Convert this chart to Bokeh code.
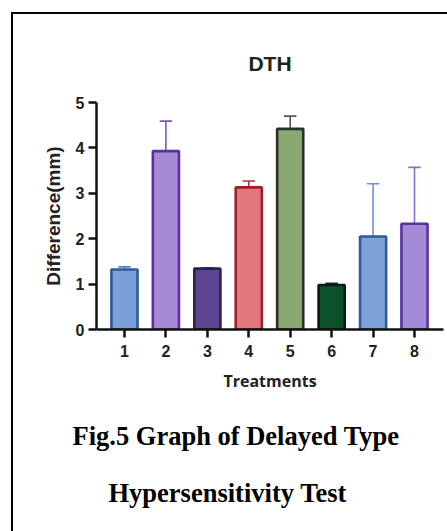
from bokeh.plotting import figure
from bokeh.models import ColumnDataSource, FixedTicker, Title
from bokeh.embed import file_html
from bokeh.resources import INLINE

treatments = [1, 2, 3, 4, 5, 6, 7, 8]
means = [1.32, 3.93, 1.34, 3.13, 4.42, 0.98, 2.05, 2.33]
upper = [1.38, 4.59, 1.36, 3.27, 4.70, 1.02, 3.21, 3.57]
fills = ["#7ba0d8", "#a58bd5", "#5e4592", "#e0787e", "#8aa772", "#0b5229", "#7ea2d8", "#a48bd6"]
borders = ["#2d5a9b", "#5b2da6", "#2b2250", "#a01d2a", "#273226", "#0b1a10", "#2f5aa0", "#5a31a5"]
errcolors = ["#5a7fb8", "#7a5ab8", "#3a2f60", "#b03040", "#555555", "#1a2a1a", "#7090d0", "#8a70c8"]
y_ticks = [0, 1, 2, 3, 4, 5]

W, H = 447, 531
frame_css = ("linear-gradient(#000,#000) 11px 12px / 2px 519px no-repeat, "
             "linear-gradient(#000,#000) 11px 12px / 436px 2px no-repeat, #ffffff")
p = figure(width=W, height=H, output_backend="svg", toolbar_location=None,
           x_range=(0.325, 8.70), y_range=(0, 5),
           min_border_left=96, min_border_top=102, min_border_bottom=202, min_border_right=4,
           styles={"background": frame_css})
p.outline_line_color = None
p.border_fill_color = None
p.background_fill_color = "#ffffff"
p.grid.visible = False

src = ColumnDataSource(dict(x=treatments, top=means, up=upper, fill=fills, line=borders, err=errcolors,
                            cl=[t - 0.15 for t in treatments], cr=[t + 0.15 for t in treatments]))

p.segment(x0="x", y0="top", x1="x", y1="up", line_color="err", line_width=1.6, source=src)
p.segment(x0="cl", y0="up", x1="cr", y1="up", line_color="err", line_width=1.6, source=src)
p.vbar(x="x", top="top", width=0.63, bottom=0, fill_color="fill", line_color="line",
       line_width=2.6, source=src)

for ax in (p.xaxis[0], p.yaxis[0]):
    ax.axis_line_width = 2.5
    ax.axis_line_color = "#111111"
    ax.major_tick_line_width = 2.5
    ax.major_tick_line_color = "#111111"
    ax.major_tick_in = 0
    ax.major_tick_out = 8
    ax.minor_tick_line_color = None
    ax.major_label_text_font = "Liberation Sans"
    ax.major_label_text_font_style = "bold"
    ax.major_label_text_font_size = "16px"
    ax.major_label_text_color = "#222222"
    ax.axis_label_text_font_style = "bold"
    ax.axis_label_text_color = "#222222"

p.xaxis.ticker = FixedTicker(ticks=treatments)
p.yaxis.ticker = FixedTicker(ticks=y_ticks)
p.xaxis.major_label_standoff = 7
p.yaxis.major_label_standoff = 4
p.xaxis.axis_label = "Treatments"
p.xaxis.axis_label_text_font = "Open Sans"
p.xaxis.axis_label_text_font_size = "16px"
p.xaxis.axis_label_standoff = 10
p.yaxis.axis_label = "Difference(mm)"
p.yaxis.axis_label_text_font = "Liberation Sans"
p.yaxis.axis_label_text_font_size = "19px"
p.yaxis.axis_label_standoff = 9

p.add_layout(Title(text="DTH", text_font="Liberation Sans", text_font_style="bold",
                   text_font_size="21px", text_color="#222222", align="center",
                   standoff=55), "above")
p.add_layout(Title(text="Fig.5 Graph of Delayed Type", text_font="Liberation Serif",
                   text_font_style="bold", text_font_size="26.5px", text_color="#000000",
                   align="left", offset=-24, standoff=49), "below")
p.add_layout(Title(text="Hypersensitivity Test", text_font="Liberation Serif",
                   text_font_style="bold", text_font_size="26.5px", text_color="#000000",
                   align="left", offset=12, standoff=0), "below")

open("out.html", "w").write(file_html(p, INLINE))
